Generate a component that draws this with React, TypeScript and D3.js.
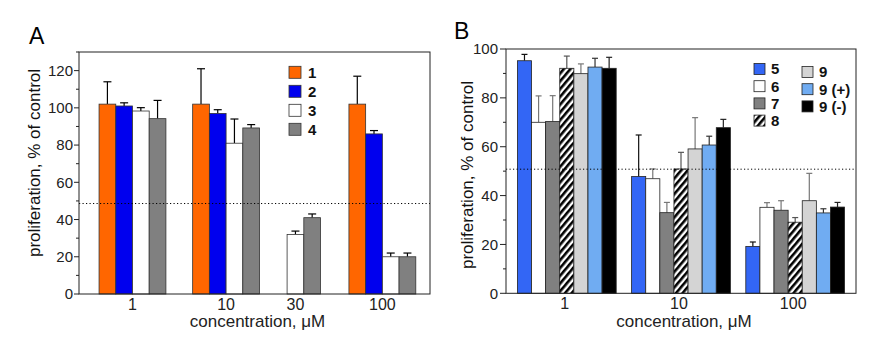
import React from "react";
import * as d3 from "d3";

// panel A
const concA = ["1", "10", "30", "100"];
const seriesA = ["1", "2", "3", "4"];
const valsA1 = [102, 102, null, 102];
const errA1 = [12, 19, null, 15];
const valsA2 = [101, 97, null, 86];
const errA2 = [1.7, 2, null, 1.8];
const valsA3 = [98.3, 81, 32, 20];
const errA3 = [1.8, 13, 1.8, 2];
const valsA4 = [94.2, 89.2, 41, 20];
const errA4 = [9.8, 1.8, 2, 2];
const refA = 48.6;

// panel B
const concB = ["1", "10", "100"];
const seriesB = ["5", "6", "7", "8", "9", "9 (+)", "9 (-)"];
const valsB5 = [95.2, 47.8, 19.2];
const errB5 = [2.6, 17, 1.8];
const valsB6 = [70, 46.9, 35.2];
const errB6 = [10.8, 4, 1.9];
const valsB7 = [70.3, 33, 34];
const errB7 = [10.6, 4.2, 3.9];
const valsB8 = [92.1, 50.9, 29.1];
const errB8 = [5, 6.8, 1.9];
const valsB9 = [89.9, 59.1, 37.9];
const errB9 = [4, 12.8, 11.2];
const valsB9p = [92.6, 60.7, 32.9];
const errB9p = [3.6, 3.6, 1.7];
const valsB9m = [92.1, 67.8, 35.3];
const errB9m = [4.5, 3.4, 1.9];
const refB = 50.8;

const ticksA = [0, 20, 40, 60, 80, 100, 120];
const ticksB = [0, 20, 40, 60, 80, 100];

const colorsA = ["#ff6600", "#0000ee", "#ffffff", "#808080"];
const colorsB = ["#3366f5", "#ffffff", "#808080", "url(#hatch)", "#d4d4d4", "#70acf2", "#000000"];
const errColorsB = ["#111", "#777", "#777", "#555", "#777", "#333", "#222"];

const font = "'Liberation Sans', Arial, sans-serif";

// irregular group layout of panel A, in bar-width slots
const groupStartA = [1.2, 6.8, 10.45, 16.15];
const labelSlotA = [3.2, 8.8, 12.95, 18.15];

export default function App() {
  const A = { left: 79, right: 430, top: 52, bottom: 294 };
  const B = { left: 506, right: 856, top: 49, bottom: 293.3 };

  const yA = d3.scaleLinear().domain([0, 130]).range([A.bottom, A.top]);
  const xA = d3.scaleLinear().domain([0, 21]).range([A.left, A.right]);
  const bwA = xA(1) - xA(0);

  const yB = d3.scaleLinear().domain([0, 100]).range([B.bottom, B.top]);
  const xB = d3.scaleBand().domain(concB).range([B.left, B.right]).paddingInner(0.135).paddingOuter(0.1);
  const xBi = d3.scaleBand().domain(seriesB).range([0, xB.bandwidth()]);

  const dataA = [valsA1, valsA2, valsA3, valsA4];
  const errsA = [errA1, errA2, errA3, errA4];
  const dataB = [valsB5, valsB6, valsB7, valsB8, valsB9, valsB9p, valsB9m];
  const errsB = [errB5, errB6, errB7, errB8, errB9, errB9p, errB9m];

  const minorA = d3.range(10, 131, 20);
  const minorB = d3.range(10, 100, 20);

  return (
    <svg width={890} height={357} style={{ position: "absolute", left: 0, top: 0, fontFamily: font }}>
      <defs>
        <pattern id="hatch" width="5" height="5" patternUnits="userSpaceOnUse" patternTransform="rotate(40)">
          <rect width="5" height="5" fill="#fff" />
          <rect width="2.6" height="5" fill="#000" />
        </pattern>
      </defs>

      {/* ---------- Panel A ---------- */}
      <text x={29} y={44} fontSize={23}>A</text>
      <g>
        {dataA.map((vals, s) =>
          vals.map((v, g) => {
            if (v == null) return null;
            const x0 = xA(groupStartA[g] + s);
            const xc = x0 + bwA / 2;
            const e = errsA[s][g] as number;
            return (
              <g key={`a${s}-${g}`}>
                <line x1={xc} x2={xc} y1={yA(v)} y2={yA(v + e)} stroke="#000" strokeWidth={1.2} />
                <line x1={xc - 4} x2={xc + 4} y1={yA(v + e)} y2={yA(v + e)} stroke="#000" strokeWidth={1.2} />
                <rect x={x0} y={yA(v)} width={bwA} height={yA(0) - yA(v)} fill={colorsA[s]} stroke="#333" strokeWidth={0.8} />
              </g>
            );
          })
        )}
        <line x1={A.left} x2={A.right} y1={yA(refA)} y2={yA(refA)} stroke="#000" strokeDasharray="1.2,2.3" />
        <rect x={A.left} y={A.top} width={A.right - A.left} height={A.bottom - A.top} fill="none" stroke="#222" strokeWidth={1} />
        {ticksA.map((t) => (
          <g key={`ta${t}`}>
            <line x1={A.left - 5} x2={A.left} y1={yA(t)} y2={yA(t)} stroke="#222" />
            <text x={A.left - 6} y={yA(t)} dy="0.36em" textAnchor="end" fontSize={15} fill="#222">{t}</text>
          </g>
        ))}
        {minorA.map((t) => (
          <line key={`ma${t}`} x1={A.left - 3} x2={A.left} y1={yA(t)} y2={yA(t)} stroke="#222" />
        ))}
        {concA.map((c, g) => (
          <text key={`ca${c}`} x={xA(labelSlotA[g])} y={309.5} textAnchor="middle" fontSize={16} fill="#222">{c}</text>
        ))}
        <text x={(A.left + A.right) / 2 + 3} y={327} textAnchor="middle" fontSize={17} fill="#222">concentration, μM</text>
        <text transform={`translate(40,163) rotate(-90)`} textAnchor="middle" fontSize={17} fill="#111">proliferation, % of control</text>
        {seriesA.map((s, i) => (
          <g key={`la${s}`} transform={`translate(289,${72.3 + i * 19})`}>
            <rect x={0} y={-6} width={12} height={12} fill={colorsA[i]} stroke="#333" strokeWidth={0.8} />
            <text x={19} y={0} dy="0.36em" fontSize={15} fontWeight="bold" fill="#111">{s}</text>
          </g>
        ))}
      </g>

      {/* ---------- Panel B ---------- */}
      <text x={454} y={39} fontSize={23}>B</text>
      <g>
        {dataB.map((vals, s) =>
          vals.map((v, g) => {
            const x0 = (xB(concB[g]) as number) + (xBi(seriesB[s]) as number);
            const w = xBi.bandwidth();
            const xc = x0 + w / 2;
            const e = errsB[s][g];
            return (
              <g key={`b${s}-${g}`}>
                <line x1={xc} x2={xc} y1={yB(v)} y2={yB(v + e)} stroke={errColorsB[s]} strokeWidth={1.2} />
                <line x1={xc - 3} x2={xc + 3} y1={yB(v + e)} y2={yB(v + e)} stroke={errColorsB[s]} strokeWidth={1.2} />
                <rect x={x0} y={yB(v)} width={w} height={yB(0) - yB(v)} fill={colorsB[s]} stroke="#222" strokeWidth={0.8} />
              </g>
            );
          })
        )}
        <line x1={B.left} x2={B.right} y1={yB(refB)} y2={yB(refB)} stroke="#000" strokeDasharray="1.2,2.3" />
        <rect x={B.left} y={B.top} width={B.right - B.left} height={B.bottom - B.top} fill="none" stroke="#222" strokeWidth={1} />
        {ticksB.map((t) => (
          <g key={`tb${t}`}>
            <line x1={B.left - 6} x2={B.left} y1={yB(t)} y2={yB(t)} stroke="#222" />
            <text x={B.left - 8} y={yB(t)} dy="0.36em" textAnchor="end" fontSize={15} fill="#222">{t}</text>
          </g>
        ))}
        {minorB.map((t) => (
          <line key={`mb${t}`} x1={B.left - 3} x2={B.left} y1={yB(t)} y2={yB(t)} stroke="#222" />
        ))}
        {concB.map((c) => (
          <text key={`cb${c}`} x={(xB(c) as number) + xB.bandwidth() / 2 - 2} y={308.5} textAnchor="middle" fontSize={16} fill="#222">{c}</text>
        ))}
        <text x={684} y={326.5} textAnchor="middle" fontSize={17} fill="#222">concentration, μM</text>
        <text transform={`translate(473,175) rotate(-90)`} textAnchor="middle" fontSize={17} fill="#111">proliferation, % of control</text>
        {seriesB.map((s, i) => {
          const col = i < 4 ? 0 : 1;
          const row = i < 4 ? i : i - 4;
          const lx = col === 0 ? 754 : 802;
          const ly = (col === 0 ? 69 : 72) + row * 17.2;
          return (
            <g key={`lb${s}`} transform={`translate(${lx},${ly})`}>
              <rect x={0} y={-5.5} width={11} height={11} fill={colorsB[i]} stroke="#222" strokeWidth={0.8} />
              <text x={17} y={0} dy="0.36em" fontSize={15} fontWeight="bold" fill="#111">{s}</text>
            </g>
          );
        })}
      </g>
    </svg>
  );
}
